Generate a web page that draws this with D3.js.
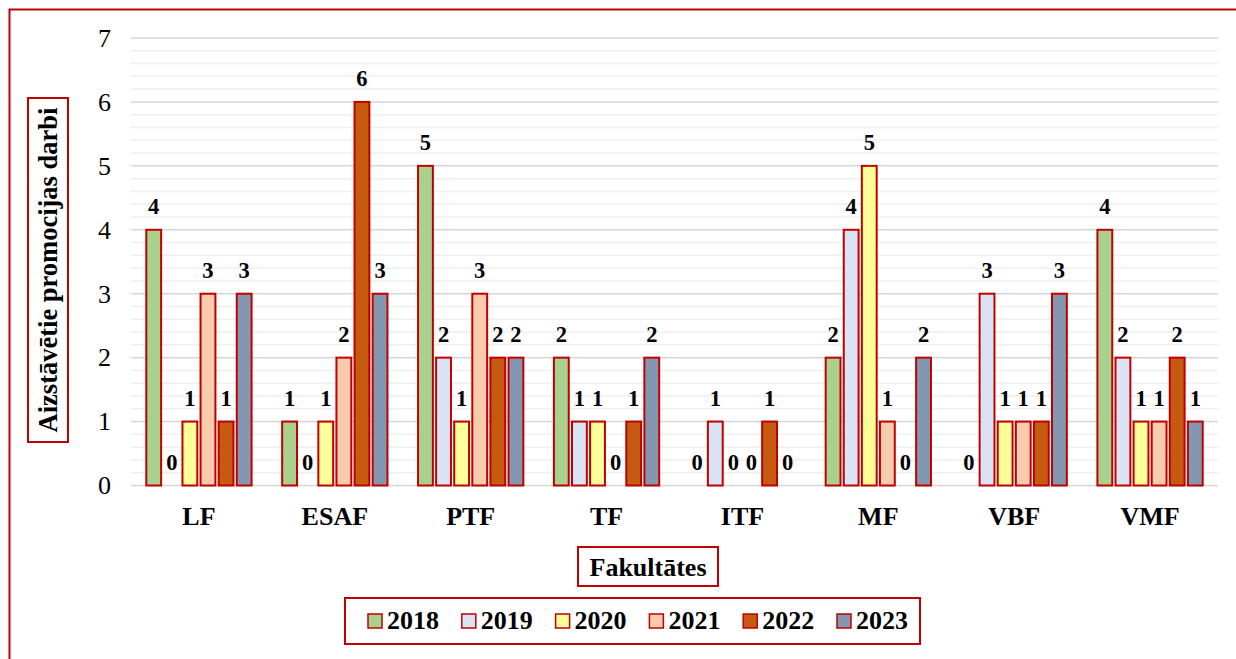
<!DOCTYPE html>
<html><head><meta charset="utf-8">
<script src="https://cdn.jsdelivr.net/npm/d3@7"></script>
<style>body{margin:0;background:#fff}svg{display:block}
text{font-family:"Liberation Serif","Times New Roman","DejaVu Serif",serif}</style>
</head><body>
<svg id="c" width="1236" height="659"></svg>
<script>
const categories = ["LF","ESAF","PTF","TF","ITF","MF","VBF","VMF"];
const years = ["2018","2019","2020","2021","2022","2023"];
const v2018 = [4,1,5,2,0,2,0,4];
const v2019 = [0,0,2,1,1,4,3,2];
const v2020 = [1,1,1,1,0,5,1,1];
const v2021 = [3,2,3,0,0,1,1,1];
const v2022 = [1,6,2,1,1,0,1,2];
const v2023 = [3,3,2,2,0,2,3,1];
const yTicks = [0,1,2,3,4,5,6,7];
const colors = ["#a9d18e","#dae3f3","#ffff99","#f8cbad","#c55a11","#8497b0"];
const series = [v2018,v2019,v2020,v2021,v2022,v2023];

const svg = d3.select("#c");
const red = "#c00000";
const L = 131, R = 1218, T = 38, B = 485.5;

// outer frame
svg.append("rect").attr("x",9.5).attr("y",9.5).attr("width",1260).attr("height",700)
  .attr("fill","none").attr("stroke",red).attr("stroke-width",2);

const y = d3.scaleLinear().domain([0,7]).range([B,T]);
const x0 = d3.scaleBand().domain(categories).range([L,R]).paddingInner(0.225).paddingOuter(0.1125);
const x1 = d3.scaleBand().domain(years).range([0,x0.bandwidth()]).paddingInner(0.18);

// minor gridlines
const minor = d3.range(0,7.001,0.2).filter(v=>Math.abs(v-Math.round(v))>0.01);
svg.append("g").selectAll("line").data(minor).join("line")
  .attr("x1",L).attr("x2",R).attr("y1",d=>y(d)).attr("y2",d=>y(d))
  .attr("stroke","#efefef").attr("stroke-width",1.5);
// major gridlines
svg.append("g").selectAll("line").data(yTicks).join("line")
  .attr("x1",L).attr("x2",R).attr("y1",d=>y(d)).attr("y2",d=>y(d))
  .attr("stroke","#d6d6d6").attr("stroke-width",1.5);

// y axis labels
const yAxis = d3.axisLeft(y).tickValues(yTicks).tickSize(0).tickPadding(20).tickFormat(d3.format("d"));
const ga = svg.append("g").attr("transform",`translate(${L},0)`).call(yAxis);
ga.select(".domain").remove();
ga.attr("font-family",null).attr("font-size",null);
ga.selectAll("text").attr("font-size",26).attr("fill","#000");

// x axis labels
const xAxis = d3.axisBottom(x0).tickSize(0).tickPadding(21);
const gx = svg.append("g").attr("transform",`translate(0,${B})`).call(xAxis);
gx.select(".domain").remove();
gx.attr("font-family",null).attr("font-size",null);
gx.selectAll("text").attr("font-size",26).attr("font-weight","bold").attr("fill","#000");

// bars
const data = [];
categories.forEach((c,i)=>years.forEach((yr,j)=>data.push({c,yr,j,v:series[j][i]})));
const g = svg.append("g");
g.selectAll("rect").data(data.filter(d=>d.v>0)).join("rect")
  .attr("x",d=>x0(d.c)+x1(d.yr)).attr("width",x1.bandwidth())
  .attr("y",d=>y(d.v)).attr("height",d=>y(0)-y(d.v))
  .attr("fill",d=>colors[d.j]).attr("stroke",red).attr("stroke-width",2);
g.selectAll("text").data(data).join("text")
  .attr("x",d=>x0(d.c)+x1(d.yr)+x1.bandwidth()/2).attr("y",d=>y(d.v)-16)
  .attr("text-anchor","middle").attr("font-size",22.5)
  .attr("font-weight","bold").text(d=>d.v);

// y title
svg.append("rect").attr("x",28).attr("y",98).attr("width",40).attr("height",344)
  .attr("fill","#fff").attr("stroke",red).attr("stroke-width",2);
svg.append("text").attr("transform","translate(57,270) rotate(-90)")
  .attr("text-anchor","middle").attr("font-size",26.5)
  .attr("font-weight","bold").text("Aizstāvētie promocijas darbi");

// x title
svg.append("rect").attr("x",578).attr("y",547).attr("width",140).attr("height",39)
  .attr("fill","#fff").attr("stroke",red).attr("stroke-width",2);
svg.append("text").attr("x",648).attr("y",576).attr("text-anchor","middle")
  .attr("font-size",26).attr("font-weight","bold").text("Fakultātes");

// legend
svg.append("rect").attr("x",345).attr("y",598).attr("width",575).attr("height",46)
  .attr("fill","#fff").attr("stroke",red).attr("stroke-width",2);
const lg = svg.append("g").selectAll("g").data(years).join("g")
  .attr("transform",(d,i)=>`translate(${368+i*93.8},0)`);
lg.append("rect").attr("x",0).attr("y",614).attr("width",14).attr("height",14)
  .attr("fill",(d,i)=>colors[i]).attr("stroke",red).attr("stroke-width",1.5);
lg.append("text").attr("x",19).attr("y",629).attr("font-size",26)
  .attr("font-weight","bold").text(d=>d);
</script>
</body></html>
